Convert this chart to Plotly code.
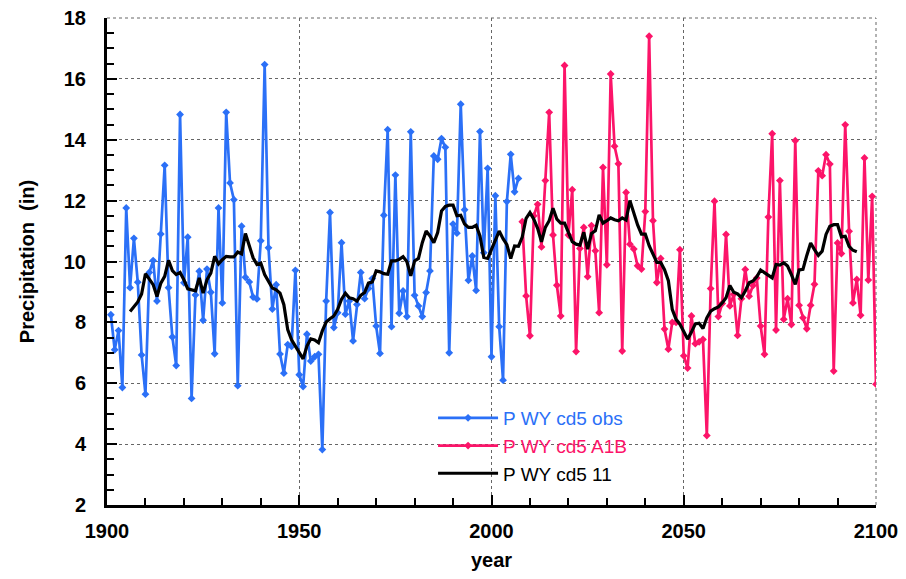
import plotly.graph_objects as go

obs_years = list(range(1901, 2008))
obs_vals = [8.25, 7.1, 7.73, 5.86, 11.76, 9.14, 10.76, 9.32, 6.93, 5.64,
            9.64, 10.03, 8.7, 10.9, 13.16, 9.14, 7.52, 6.58, 14.83, 9.3,
            10.8, 5.5, 8.9, 9.68, 8.07, 9.75, 8.99, 6.97, 11.76, 8.64,
            14.9, 12.58, 12.03, 5.92, 11.16, 9.48, 9.33, 8.83, 8.77, 10.68,
            16.47, 10.45, 8.44, 9.24, 6.96, 6.33, 7.27, 7.21, 9.71, 6.28,
            5.89, 7.61, 6.73, 6.87, 6.95, 3.82, 8.7, 11.61, 7.83, 8.32,
            10.62, 8.27, 8.7, 7.39, 8.59, 9.64, 8.78, 9.11, 9.44, 7.88,
            6.98, 11.52, 14.33, 7.86, 12.84, 8.3, 9.03, 8.19, 14.26, 8.89,
            8.54, 8.19, 8.98, 9.69, 13.47, 13.36, 14.04, 13.75, 7.0, 11.23,
            10.93, 15.17, 11.7, 9.38, 10.18, 9.05, 14.27, 10.29, 13.06, 6.87,
            12.16, 7.86, 6.1, 11.97, 13.52, 12.29, 12.73]

a1b_years = list(range(2008, 2101))
a1b_vals = [11.31, 8.87, 7.56, 11.5, 11.88, 10.48, 12.66, 14.9, 10.87, 9.22,
            8.21, 16.44, 10.87, 12.36, 7.04, 10.43, 11.12, 9.5, 11.18, 10.35,
            8.32, 13.09, 9.89, 16.16, 13.79, 13.21, 7.06, 12.27, 10.57, 10.41,
            9.86, 9.75, 11.64, 17.4, 11.34, 9.31, 10.1, 7.78, 7.12, 8.0,
            8.0, 10.39, 6.9, 6.5, 8.21, 7.3, 7.36, 7.44, 4.28, 9.11,
            11.98, 8.19, 8.62, 10.89, 8.54, 8.92, 7.57, 8.78, 9.74, 8.86,
            9.21, 9.46, 7.88, 6.95, 11.46, 14.2, 7.75, 12.66, 8.1, 8.78,
            7.93, 13.97, 8.56, 8.15, 7.79, 8.56, 9.25, 12.98, 12.82, 13.51,
            13.2, 6.4, 10.61, 10.26, 14.49, 10.99, 8.64, 9.41, 8.23, 13.4,
            9.39, 12.14, 5.97]

ma_years = list(range(1906, 2096))
ma_vals = [8.36, 8.53, 8.67, 8.93, 9.6, 9.42, 9.24, 8.85, 9.29, 9.51,
           10.04, 9.7, 9.57, 9.64, 9.4, 9.1, 9.07, 9.04, 9.46, 8.96,
           9.4, 9.62, 10.17, 9.92, 10.06, 10.17, 10.15, 10.15, 10.31, 10.25,
           10.92, 10.5, 10.12, 9.9, 9.95, 9.57, 9.35, 9.13, 9.07, 8.96,
           8.58, 7.76, 7.43, 7.21, 7.02, 6.8, 7.22, 7.46, 7.42, 7.33,
           7.72, 8.01, 8.12, 8.21, 8.43, 8.76, 8.96, 8.81, 8.78, 8.7,
           8.89, 8.98, 9.29, 9.33, 9.69, 9.66, 9.6, 9.58, 10.02, 10.02,
           10.07, 10.16, 9.99, 9.53, 10.02, 10.1, 10.62, 11.0, 10.84, 10.62,
           10.95, 11.66, 11.81, 11.85, 11.85, 11.5, 11.52, 11.23, 11.12, 11.12,
           11.19, 10.84, 10.13, 10.1, 10.4, 10.68, 11.0, 10.75, 10.55, 10.1,
           10.51, 10.5, 10.8, 11.42, 11.61, 11.39, 11.09, 10.65, 11.12, 11.34,
           11.75, 11.39, 11.26, 11.26, 10.96, 10.65, 10.57, 10.54, 10.96, 10.41,
           10.92, 11.01, 11.53, 11.26, 11.34, 11.43, 11.37, 11.34, 11.43, 11.36,
           12.0, 11.61, 11.2, 10.9, 10.9, 10.52, 10.24, 9.97, 9.97, 9.73,
           9.37, 8.43, 8.1, 7.94, 7.7, 7.45, 7.68, 7.95, 7.97, 7.8,
           8.15, 8.37, 8.45, 8.51, 8.64, 8.81, 9.21, 8.99, 8.94, 8.81,
           9.03, 9.3, 9.36, 9.5, 9.72, 9.63, 9.54, 9.46, 9.9, 9.88,
           9.96, 9.85, 9.57, 9.25, 9.72, 9.74, 10.2, 10.61, 10.39, 10.2,
           10.34, 10.89, 11.16, 11.21, 11.21, 10.81, 10.83, 10.5, 10.37, 10.32]

BLUE = "#2b70f7"
PINK = "#fc1469"
FONT = "Liberation Sans, Arial, sans-serif"

fig = go.Figure()
fig.add_trace(go.Scatter(
    x=obs_years, y=obs_vals, mode="lines+markers",
    name=f"<span style='color:{BLUE}'>P WY cd5 obs</span>",
    line=dict(color=BLUE, width=2.7),
    marker=dict(symbol="diamond", size=6, color=BLUE)))
fig.add_trace(go.Scatter(
    x=a1b_years, y=a1b_vals, mode="lines+markers",
    name=f"<span style='color:{PINK}'>P WY cd5 A1B</span>",
    line=dict(color=PINK, width=2.7),
    marker=dict(symbol="diamond", size=6, color=PINK)))
fig.add_trace(go.Scatter(
    x=ma_years, y=ma_vals, mode="lines",
    name="P WY cd5 11",
    line=dict(color="black", width=3.2)))

axis_common = dict(
    showgrid=True, gridcolor="#666666", gridwidth=1, griddash="3px,3px",
    showline=True, linecolor="black", linewidth=3,
    ticks="inside", ticklen=10, tickwidth=2, tickcolor="black",
    zeroline=False, mirror=False, ticklabeloverflow="allow",
    tickfont=dict(family=FONT, size=20, color="black", weight="bold"),
)

fig.update_xaxes(range=[1900, 2100], dtick=50, tick0=1900,
                 minor=dict(dtick=10, ticks="inside", ticklen=7, tickwidth=2,
                            tickcolor="black", showgrid=False),
                 ticklabelstandoff=6,
                 title=dict(text="year", standoff=12,
                            font=dict(family=FONT, size=20, color="black", weight="bold")),
                 **axis_common)
fig.update_yaxes(range=[2, 18], dtick=2, tick0=2,
                 minor=dict(dtick=0.5, ticks="inside", ticklen=7, tickwidth=2,
                            tickcolor="black", showgrid=False),
                 ticklabelstandoff=14,
                 title=dict(text="Precipitation&nbsp; (in)", standoff=24,
                            font=dict(family=FONT, size=20, color="black", weight="bold")),
                 **axis_common)

# dashed frame on top and right edges
fig.add_shape(type="line", xref="paper", yref="paper", x0=0, x1=1, y0=1, y1=1,
              line=dict(color="#666666", width=1, dash="3px,3px"), layer="below")
fig.add_shape(type="line", xref="paper", yref="paper", x0=1, x1=1, y0=0, y1=1,
              line=dict(color="#666666", width=1, dash="3px,3px"), layer="below")

fig.update_layout(
    width=898, height=571,
    margin=dict(l=99, r=30, t=10, b=74, autoexpand=False),
    paper_bgcolor="white", plot_bgcolor="white",
    font=dict(family=FONT, size=20, color="black"),
    showlegend=True,
    legend=dict(x=0.424, y=0.2177, xanchor="left", yanchor="top",
                bgcolor="rgba(255,255,255,0)", borderwidth=0,
                font=dict(family=FONT, size=19), itemwidth=60,
                tracegroupgap=0),
)

fig.write_html("out.html")
